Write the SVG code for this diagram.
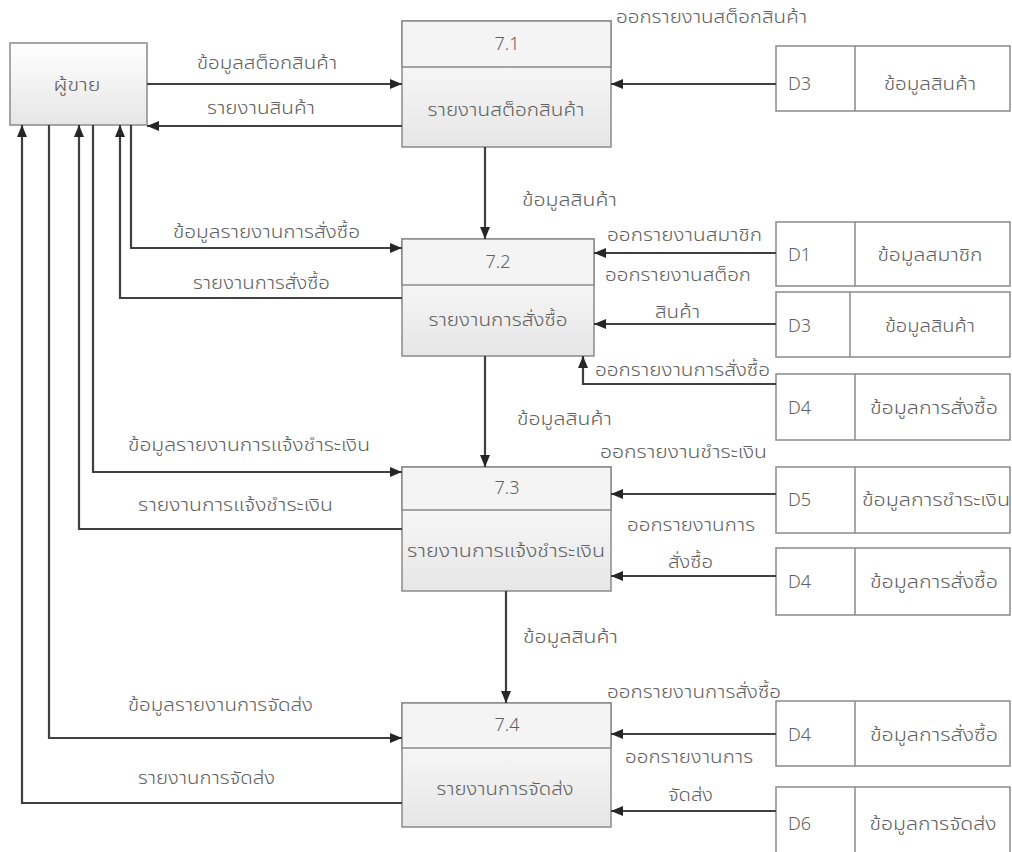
<svg xmlns="http://www.w3.org/2000/svg" width="1012" height="852" viewBox="0 0 1012 852">
  <defs>
    <linearGradient id="boxFill" x1="0" y1="0" x2="0" y2="1">
      <stop offset="0" stop-color="#ffffff"/>
      <stop offset="1" stop-color="#e6e6e6"/>
    </linearGradient>
    <marker id="arrow" viewBox="0 0 12 10" refX="12" refY="5" markerWidth="12" markerHeight="10" markerUnits="userSpaceOnUse" orient="auto">
      <path d="M0,0 L12,5 L0,10 z" fill="#262626"/>
    </marker>
    <style>
      text { font-family: "Noto Sans Thai", "Leelawadee UI", Tahoma, "DejaVu Sans", sans-serif; font-size: 18px; font-weight: 300; fill: #606060; }
      .c { text-anchor: middle; }
      .box { fill: url(#boxFill); stroke: #8a8a8a; stroke-width: 1.5; }
      .hdr { fill: #f4f4f4; stroke: #8a8a8a; stroke-width: 1.5; }
      .store { fill: #ffffff; stroke: #8a8a8a; stroke-width: 1.5; }
      .div { stroke: #8a8a8a; stroke-width: 1.5; }
      .flow { fill: none; stroke: #404040; stroke-width: 2.2; marker-end: url(#arrow); }
    </style>
  </defs>

  <rect width="1012" height="852" fill="#ffffff"/>

  <!-- external entity -->
  <g id="seller">
    <rect class="box" x="10" y="43" width="137" height="82"/>
    <text class="c" x="77" y="91" textLength="47" lengthAdjust="spacingAndGlyphs">ผู้ขาย</text>
  </g>

  <!-- processes -->
  <g id="p71">
    <rect class="box" x="402" y="21" width="209" height="126"/>
    <rect class="hdr" x="402" y="21" width="209" height="46"/>
    <text class="c" x="507" y="50">7.1</text>
    <text class="c" x="506" y="116" textLength="157" lengthAdjust="spacingAndGlyphs">รายงานสต็อกสินค้า</text>
  </g>
  <g id="p72">
    <rect class="box" x="402" y="239" width="192" height="117"/>
    <rect class="hdr" x="402" y="239" width="192" height="46"/>
    <text class="c" x="498" y="268">7.2</text>
    <text class="c" x="498" y="326" textLength="139" lengthAdjust="spacingAndGlyphs">รายงานการสั่งซื้อ</text>
  </g>
  <g id="p73">
    <rect class="box" x="402" y="467" width="209" height="124"/>
    <rect class="hdr" x="402" y="467" width="209" height="43"/>
    <text class="c" x="507" y="494">7.3</text>
    <text class="c" x="506" y="557" textLength="198" lengthAdjust="spacingAndGlyphs">รายงานการแจ้งชำระเงิน</text>
  </g>
  <g id="p74">
    <rect class="box" x="402" y="703" width="209" height="124"/>
    <rect class="hdr" x="402" y="703" width="209" height="45"/>
    <text class="c" x="507" y="731">7.4</text>
    <text class="c" x="505" y="795" textLength="137" lengthAdjust="spacingAndGlyphs">รายงานการจัดส่ง</text>
  </g>

  <!-- data stores -->
  <g id="store-d3-a">
    <rect class="store" x="776" y="46" width="234" height="65"/>
    <line class="div" x1="855" y1="46" x2="855" y2="111"/>
    <text x="788" y="90">D3</text>
    <text class="c" x="930" y="90" textLength="92" lengthAdjust="spacingAndGlyphs">ข้อมูลสินค้า</text>
  </g>
  <g id="store-d1">
    <rect class="store" x="776" y="222" width="234" height="64"/>
    <line class="div" x1="855" y1="222" x2="855" y2="286"/>
    <text x="788" y="261">D1</text>
    <text class="c" x="930" y="261" textLength="105" lengthAdjust="spacingAndGlyphs">ข้อมูลสมาชิก</text>
  </g>
  <g id="store-d3-b">
    <rect class="store" x="776" y="292" width="234" height="65"/>
    <line class="div" x1="850" y1="292" x2="850" y2="357"/>
    <text x="788" y="332">D3</text>
    <text class="c" x="930" y="332" textLength="90" lengthAdjust="spacingAndGlyphs">ข้อมูลสินค้า</text>
  </g>
  <g id="store-d4-a">
    <rect class="store" x="776" y="374" width="234" height="66"/>
    <line class="div" x1="855" y1="374" x2="855" y2="440"/>
    <text x="788" y="414">D4</text>
    <text class="c" x="934" y="414" textLength="128" lengthAdjust="spacingAndGlyphs">ข้อมูลการสั่งซื้อ</text>
  </g>
  <g id="store-d5">
    <rect class="store" x="776" y="467" width="234" height="66"/>
    <line class="div" x1="855" y1="467" x2="855" y2="533"/>
    <text x="788" y="506">D5</text>
    <text class="c" x="936" y="506" textLength="148" lengthAdjust="spacingAndGlyphs">ข้อมูลการชำระเงิน</text>
  </g>
  <g id="store-d4-b">
    <rect class="store" x="776" y="548" width="234" height="67"/>
    <line class="div" x1="855" y1="548" x2="855" y2="615"/>
    <text x="788" y="588">D4</text>
    <text class="c" x="934" y="588" textLength="128" lengthAdjust="spacingAndGlyphs">ข้อมูลการสั่งซื้อ</text>
  </g>
  <g id="store-d4-c">
    <rect class="store" x="776" y="701" width="234" height="65"/>
    <line class="div" x1="855" y1="701" x2="855" y2="766"/>
    <text x="788" y="741">D4</text>
    <text class="c" x="934" y="741" textLength="128" lengthAdjust="spacingAndGlyphs">ข้อมูลการสั่งซื้อ</text>
  </g>
  <g id="store-d6">
    <rect class="store" x="776" y="787" width="234" height="75"/>
    <line class="div" x1="855" y1="787" x2="855" y2="862"/>
    <text x="788" y="830">D6</text>
    <text class="c" x="933" y="830" textLength="127" lengthAdjust="spacingAndGlyphs">ข้อมูลการจัดส่ง</text>
  </g>

  <!-- data flows -->
  <g id="connectors">
    <path class="flow" d="M147,84 H402"/>
    <path class="flow" d="M402,126 H147"/>
    <path class="flow" d="M131,125 V248 H402"/>
    <path class="flow" d="M402,298 H120 V125"/>
    <path class="flow" d="M93,125 V472 H402"/>
    <path class="flow" d="M402,529 H79 V125"/>
    <path class="flow" d="M49,125 V738 H402"/>
    <path class="flow" d="M402,803 H22 V125"/>
    <path class="flow" d="M485,147 V239"/>
    <path class="flow" d="M485,356 V467"/>
    <path class="flow" d="M506,591 V703"/>
    <path class="flow" d="M776,84 H611"/>
    <path class="flow" d="M776,253 H594"/>
    <path class="flow" d="M776,324 H594"/>
    <path class="flow" d="M776,384 H583 V356"/>
    <path class="flow" d="M776,494 H611"/>
    <path class="flow" d="M776,576 H611"/>
    <path class="flow" d="M776,734 H611"/>
    <path class="flow" d="M776,811 H611"/>
  </g>

  <!-- flow labels -->
  <g id="labels">
    <text x="197" y="69" textLength="140" lengthAdjust="spacingAndGlyphs">ข้อมูลสต็อกสินค้า</text>
    <text x="207" y="114" textLength="108" lengthAdjust="spacingAndGlyphs">รายงานสินค้า</text>
    <text x="173" y="238" textLength="187" lengthAdjust="spacingAndGlyphs">ข้อมูลรายงานการสั่งซื้อ</text>
    <text x="193" y="289" textLength="137" lengthAdjust="spacingAndGlyphs">รายงานการสั่งซื้อ</text>
    <text x="128" y="451" textLength="242" lengthAdjust="spacingAndGlyphs">ข้อมูลรายงานการแจ้งชำระเงิน</text>
    <text x="138" y="511" textLength="195" lengthAdjust="spacingAndGlyphs">รายงานการแจ้งชำระเงิน</text>
    <text x="128" y="711" textLength="185" lengthAdjust="spacingAndGlyphs">ข้อมูลรายงานการจัดส่ง</text>
    <text x="138" y="784" textLength="137" lengthAdjust="spacingAndGlyphs">รายงานการจัดส่ง</text>

    <text x="616" y="23" textLength="191" lengthAdjust="spacingAndGlyphs">ออกรายงานสต็อกสินค้า</text>
    <text x="522" y="206" textLength="95" lengthAdjust="spacingAndGlyphs">ข้อมูลสินค้า</text>
    <text x="517" y="425" textLength="95" lengthAdjust="spacingAndGlyphs">ข้อมูลสินค้า</text>
    <text x="523" y="643" textLength="95" lengthAdjust="spacingAndGlyphs">ข้อมูลสินค้า</text>

    <text x="607" y="241" textLength="155" lengthAdjust="spacingAndGlyphs">ออกรายงานสมาชิก</text>
    <text x="605" y="281" textLength="146" lengthAdjust="spacingAndGlyphs">ออกรายงานสต็อก</text>
    <text x="655" y="318" textLength="45" lengthAdjust="spacingAndGlyphs">สินค้า</text>
    <text x="595" y="376" textLength="175" lengthAdjust="spacingAndGlyphs">ออกรายงานการสั่งซื้อ</text>

    <text x="600" y="458" textLength="167" lengthAdjust="spacingAndGlyphs">ออกรายงานชำระเงิน</text>
    <text x="627" y="531" textLength="128" lengthAdjust="spacingAndGlyphs">ออกรายงานการ</text>
    <text x="668" y="568" textLength="45" lengthAdjust="spacingAndGlyphs">สั่งซื้อ</text>

    <text x="607" y="698" textLength="174" lengthAdjust="spacingAndGlyphs">ออกรายงานการสั่งซื้อ</text>
    <text x="625" y="763" textLength="128" lengthAdjust="spacingAndGlyphs">ออกรายงานการ</text>
    <text x="668" y="801" textLength="45" lengthAdjust="spacingAndGlyphs">จัดส่ง</text>
  </g>
</svg>
